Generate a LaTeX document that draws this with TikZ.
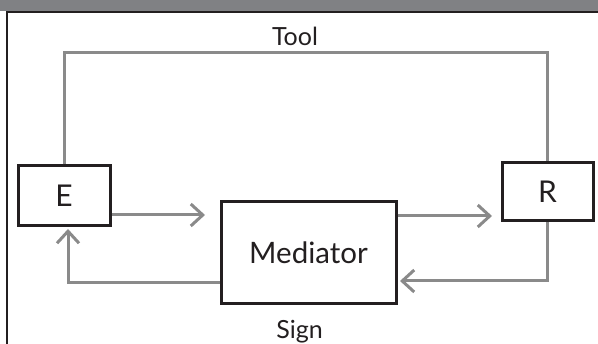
\documentclass[tikz,border=0pt]{standalone}
\usepackage{fontspec}
\setmainfont{Lato}
\usetikzlibrary{arrows.meta,positioning}
\definecolor{linegray}{HTML}{8A8A8A}
\definecolor{boxblack}{HTML}{231F20}
\definecolor{bannergray}{HTML}{808184}
\tikzstyle{box} = [draw=boxblack, line width=3pt, fill=white, inner sep=0pt, text=boxblack]
\tikzstyle{link} = [linegray, line width=3pt]
\tikzstyle{arrow} = [link, -{Straight Barb[length=12pt,width=22pt]}]
\tikzstyle{label} = [text=boxblack, font=\fontsize{25}{27}\selectfont, anchor=base]

\begin{document}
\begin{tikzpicture}[x=1pt, y=-1pt]
\useasboundingbox (0,0) rectangle (598,344);
% banner and frame
\fill[bannergray] (0,0) rectangle (598,11);
\draw[boxblack, line width=2pt] (7,344) -- (7,12) -- (598,12);

\node[box, minimum width=92pt, minimum height=60pt, font=\fontsize{30}{32}\selectfont] (e) at (64,196) {E};
\node[box, minimum width=91pt, minimum height=58pt, font=\fontsize{30}{32}\selectfont] (r) at (547.5,192) {R};
\node[box, minimum width=175pt, minimum height=102pt, font=\fontsize{29.5}{32}\selectfont] (med) at (308.5,253) {Mediator};

% tool path on top
\coordinate (top) at (0,53);
\draw[link] (e.north) -- (e.north |- top) -- (r.north |- top) -- (r.north);
\node[label] (tool) at (295,46) {Tool};

% arrows between the boxes
\coordinate (a1) at (205,215);
\draw[arrow] (e.east |- a1) -- (a1);
\coordinate (a2) at (492,216);
\draw[arrow] (med.east |- a2) -- (a2);
\coordinate (a3) at (400,281);
\draw[arrow] (r.south) |- (a3);
\coordinate (b4) at (0,283);
\coordinate (a4) at (68,229);
\draw[arrow] (med.west |- b4) -| (a4);

\node[label] (sign) at (299.5,339) {Sign};
\end{tikzpicture}
\end{document}
